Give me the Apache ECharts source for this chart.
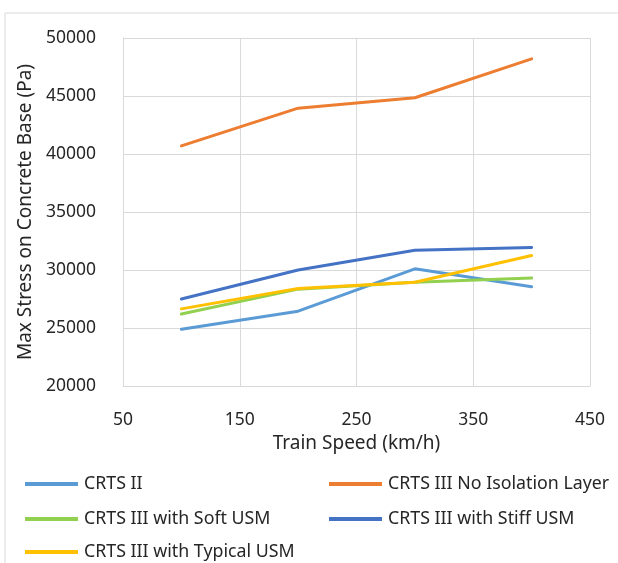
<!DOCTYPE html>
<html><head><meta charset="utf-8">
<script src="https://cdn.jsdelivr.net/npm/echarts@6/dist/echarts.min.js"></script>
<style>html,body{margin:0;padding:0;background:#fff}#c{width:618px;height:563px}</style>
</head><body><div id="c"></div>
<script>
const speeds = [100, 200, 300, 400];
const seriesNames = ['CRTS II', 'CRTS III No Isolation Layer', 'CRTS III with Soft USM', 'CRTS III with Stiff USM', 'CRTS III with Typical USM'];
const crtsII = [24900, 26450, 30100, 28550];
const noIsolation = [40700, 43950, 44850, 48200];
const softUSM = [26200, 28350, 28950, 29300];
const stiffUSM = [27500, 30000, 31700, 31950];
const typicalUSM = [26650, 28400, 28950, 31250];
const colors = ['#5b9bd5', '#ed7d31', '#92d050', '#4472c4', '#ffc000'];
const allValues = [crtsII, noIsolation, softUSM, stiffUSM, typicalUSM];

const font = 'Noto Sans';
const textColor = '#262626';
const chart = echarts.init(document.getElementById('c'), null, {renderer: 'canvas'});
const legendPos = [[25, 487], [329, 487], [25, 522], [329, 522], [25, 555]];
const legends = seriesNames.map((n, i) => ({
  orient: 'horizontal', itemWidth: 53, itemHeight: 4, itemGap: 0, icon: 'rect',
  textStyle: {fontFamily: font, fontSize: 17.8, color: textColor, padding: [0, 0, 0, 1]},
  padding: 0, left: legendPos[i][0], top: legendPos[i][1] - 12, data: [n]
}));
chart.setOption({
  animation: false,
  color: colors,
  graphic: [{type: 'rect', shape: {x: 5, y: 13, width: 700, height: 700}, style: {fill: 'none', stroke: '#d9d9d9', lineWidth: 1}, silent: true}],
  grid: {left: 123, right: 28, top: 38, bottom: 177, containLabel: false},
  xAxis: {
    type: 'value', min: 50, max: 450, interval: 100,
    name: 'Train Speed (km/h)', nameLocation: 'middle', nameGap: 44,
    nameTextStyle: {fontFamily: font, fontSize: 19, color: textColor},
    axisLine: {show: true, lineStyle: {color: '#d9d9d9', width: 1}},
    axisTick: {show: false},
    axisLabel: {fontFamily: font, fontSize: 17.5, color: textColor, margin: 25},
    splitLine: {show: true, lineStyle: {color: '#d9d9d9', width: 1}}
  },
  yAxis: {
    type: 'value', min: 20000, max: 50000, interval: 5000,
    name: 'Max Stress on Concrete Base (Pa)', nameLocation: 'middle', nameGap: 86,
    nameTextStyle: {fontFamily: font, fontSize: 19, color: textColor},
    axisLine: {show: true, lineStyle: {color: '#d9d9d9', width: 1}},
    axisTick: {show: false},
    axisLabel: {fontFamily: font, fontSize: 17.5, color: textColor, margin: 27, formatter: v => String(v)},
    splitLine: {show: true, lineStyle: {color: '#d9d9d9', width: 1}}
  },
  legend: legends,
  series: seriesNames.map((n, i) => ({
    name: n, type: 'line', symbol: 'none',
    lineStyle: {width: 3, color: colors[i], cap: 'round'},
    itemStyle: {color: colors[i]},
    data: speeds.map((s, j) => [s, allValues[i][j]])
  }))
});
</script></body></html>
